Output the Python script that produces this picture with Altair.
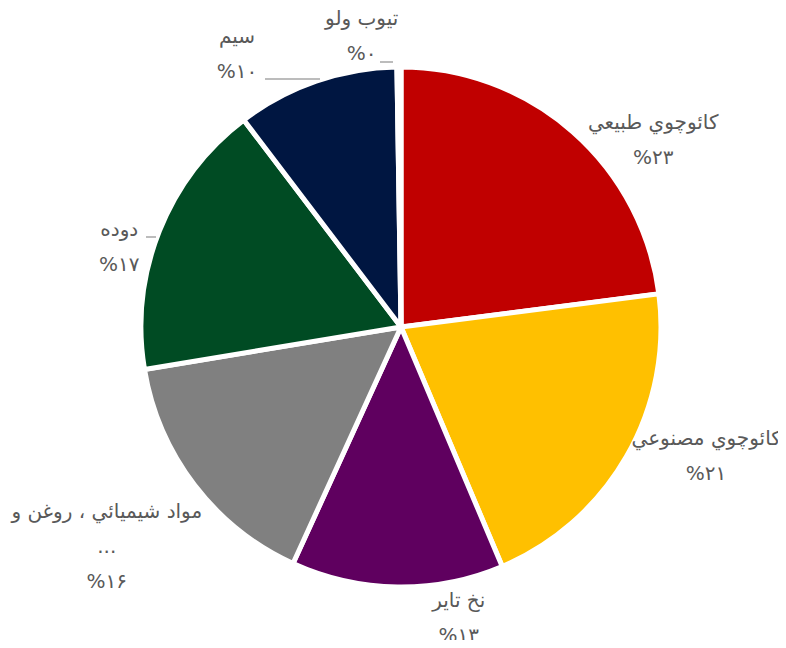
import altair as alt
import pandas as pd

categories = ["کائوچوي طبیعي", "کائوچوي مصنوعي", "نخ تایر", "مواد شیمیائي ، روغن و\n...",
              "دوده", "سیم", "تیوب ولو"]
values = [23.0, 20.7, 13.2, 15.6, 17.3, 10.1, 0.25]
pct_labels = ["%۲۳", "%۲۱", "%۱۳", "%۱۶", "%۱۷", "%۱۰", "%۰"]
colors = ["#C00000", "#FFC000", "#5F005F", "#808080", "#004B23", "#001641", "#4472C4"]

# label nudges (layout only), offsets from the slice-midpoint anchor
label_dx = [54, 45, 62, -56, -3, -66, -37]
label_dy = [21, -37, -26, 3, 14, -6, -8]

df = pd.DataFrame({
    "idx": list(range(len(categories))),
    "category": categories,
    "value": values,
    "label": [c + "\n" + p for c, p in zip(categories, pct_labels)],
})

cx, cy = 393, 319

base = alt.Chart(df).encode(
    theta=alt.Theta("value:Q", stack=True),
    order=alt.Order("idx:Q"),
)

pie = base.mark_arc(outerRadius=260, stroke="white", strokeWidth=5).encode(
    color=alt.Color("category:N", scale=alt.Scale(domain=categories, range=colors), legend=None),
    x=alt.value(cx), y=alt.value(cy),
)

layers = [pie]
for i in range(len(categories)):
    t = base.mark_text(
        radius=300, dx=label_dx[i], dy=label_dy[i], fontSize=20, font="DejaVu Sans",
        color="#595959", lineBreak="\n", lineHeight=35, align="center", baseline="middle",
    ).encode(
        text="label:N",
        x=alt.value(cx), y=alt.value(cy),
        opacity=alt.condition(f"datum.idx == {i}", alt.value(1), alt.value(0)),
    )
    layers.append(t)

leader_df = pd.DataFrame({"a": [0]})
leaders = [
    (257, 312, 71),   # سیم
    (372, 385, 54),   # تیوب ولو
    (138, 148, 229),  # دوده
]
for x1, x2, yy in leaders:
    layers.append(
        alt.Chart(leader_df).mark_rule(color="#A6A6A6", strokeWidth=1.5).encode(
            x=alt.value(x1), x2=alt.value(x2), y=alt.value(yy)
        )
    )

chart = alt.layer(*layers).properties(
    width=770, height=632, padding=0, autosize="none"
).configure_view(stroke=None)

chart.save("out.html", embed_options={"renderer": "svg", "actions": False})
